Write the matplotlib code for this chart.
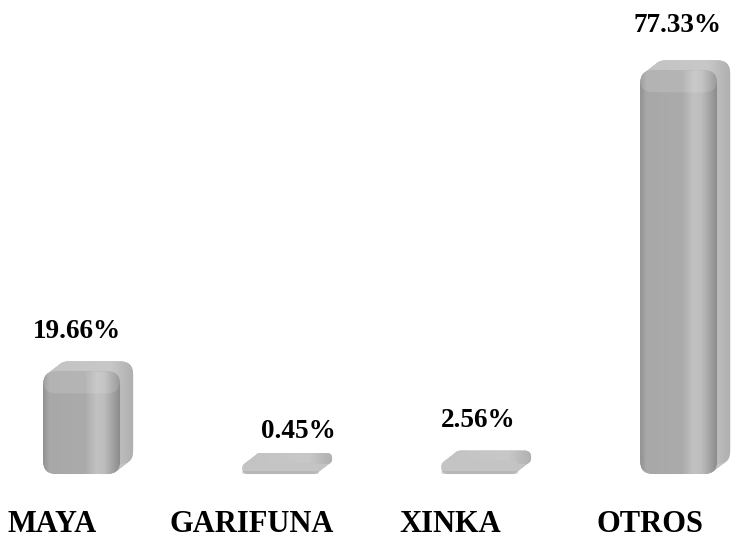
import numpy as np
import matplotlib.pyplot as plt
from matplotlib.patches import FancyBboxPatch
from matplotlib.colors import LinearSegmentedColormap

# data
categories = ['MAYA', 'GARIFUNA', 'XINKA', 'OTROS']
values = [19.66, 0.45, 2.56, 77.33]
labels = ['19.66%', '0.45%', '2.56%', '77.33%']

# label nudges in pixels (value labels are not evenly placed in the original)
val_dx = [-5, 18, -1, -1]
val_dy = [23, 15, 24, 28]
cat_dx = -29

plt.rcParams['font.family'] = ['Liberation Serif', 'DejaVu Serif']

W, H = 731, 540
fig = plt.figure(figsize=(W / 100, H / 100), dpi=100)
ax = fig.add_axes([0, 0, 1, 1])
x_lo, x_hi = -0.41, 3.263
y_lo, y_hi = -12.64, 90.8
ax.set_xlim(x_lo, x_hi)
ax.set_ylim(y_lo, y_hi)
ax.axis('off')

# pixel -> data unit factors
px_x = (x_hi - x_lo) / W
px_y = (y_hi - y_lo) / H
aspect = px_y / px_x

bar_w = 77 * px_x
depth_x = 13 * px_x
depth_y = 10 * px_y
r_px = 13
min_px = 11   # smallest drawn thickness, so tiny bars stay visible

front_cmap = LinearSegmentedColormap.from_list('front', [
    (0.00, '#909090'), (0.08, '#a8a8a8'), (0.55, '#ababab'),
    (0.70, '#c2c2c2'), (0.80, '#bdbdbd'), (0.92, '#a0a0a0'), (1.00, '#8c8c8c')])
back_cmap = LinearSegmentedColormap.from_list('back', [
    (0.0, '#c4c4c4'), (0.7, '#c8c8c8'), (1.0, '#b0b0b0')])

grad = np.linspace(0, 1, 256).reshape(1, -1)


def rbox(x, y, w, h, r, **kw):
    return FancyBboxPatch((x, y), w, h, boxstyle=f'round,pad=0,rounding_size={r}',
                          mutation_aspect=aspect, ec='none', **kw)


for i, v in enumerate(values):
    x0 = i - bar_w / 2
    h = max(v, min_px * px_y)
    h_px = h / px_y
    rf = min(r_px, h_px / 2.02) * px_x

    # depth: stack of boxes sliding from back to front
    for t in np.linspace(1, 0.05, 14):
        ax.add_patch(rbox(x0 + depth_x * t, depth_y * t, bar_w, h, rf,
                          fc='#c3c3c3', zorder=1))
    back = rbox(x0 + depth_x, depth_y, bar_w, h, rf, fc='#c4c4c4', zorder=1.5)
    ax.add_patch(back)
    im = ax.imshow(grad, cmap=back_cmap, aspect='auto', zorder=1.5,
                   extent=(x0 + depth_x, x0 + depth_x + bar_w, depth_y, depth_y + h))
    im.set_clip_path(back)

    # front face
    front = rbox(x0, 0, bar_w, h, rf, fc='#aaaaaa', zorder=2)
    ax.add_patch(front)
    if h_px > 30:
        im = ax.imshow(grad, cmap=front_cmap, aspect='auto', zorder=2,
                       extent=(x0, x0 + bar_w, 0, h))
        im.set_clip_path(front)
        # lighter band along the top
        ax.add_patch(rbox(x0, h - 22 * px_y, bar_w, 22 * px_y, rf,
                          fc='white', alpha=0.13, zorder=3))
    else:
        front.set_facecolor('#c4c4c4')
        ax.add_patch(rbox(x0, 0, bar_w, 3 * px_y, 1.5 * px_x,
                          fc='#a0a0a0', alpha=0.35, zorder=2.5))

    ax.annotate(labels[i], (i, h + depth_y),
                xytext=(val_dx[i] * 0.72, val_dy[i] * 0.72),
                textcoords='offset points', ha='center', va='baseline',
                fontsize=19.5, fontweight='bold')
    ax.text(i + cat_dx * px_x, y_lo + 8 * px_y, categories[i],
            ha='center', va='baseline', fontsize=22, fontweight='bold')

fig.savefig('out.png', dpi=100)
